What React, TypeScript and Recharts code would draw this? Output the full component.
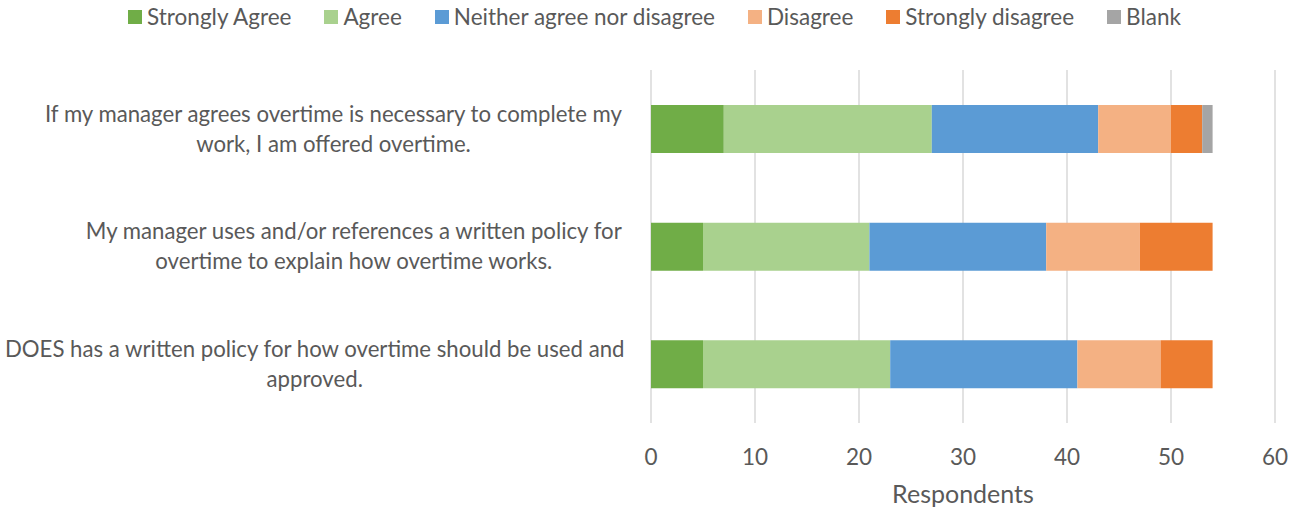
import React from "react";
import { BarChart, Bar, XAxis, YAxis, CartesianGrid } from "recharts";

const categories = [
  "If my manager agrees overtime is necessary to complete my\nwork, I am offered overtime.",
  "My manager uses and/or references a written policy for\novertime to explain how overtime works.",
  "DOES has a written policy for how overtime should be used and\napproved.",
];
const stronglyAgree = [7, 5, 5];
const agree = [20, 16, 18];
const neither = [16, 17, 18];
const disagree = [7, 9, 8];
const stronglyDisagree = [3, 7, 5];
const blank = [1, 0, 0];
const xTicks = [0, 10, 20, 30, 40, 50, 60];

const seriesNames = ["Strongly Agree", "Agree", "Neither agree nor disagree", "Disagree", "Strongly disagree", "Blank"];
const seriesKeys = ["sa", "a", "n", "d", "sd", "b"];
const colors = ["#70ad47", "#a9d18e", "#5b9bd5", "#f4b183", "#ed7d31", "#a5a5a5"];

const data = categories.map((c, i) => ({
  cat: c,
  sa: stronglyAgree[i],
  a: agree[i],
  n: neither[i],
  d: disagree[i],
  sd: stronglyDisagree[i],
  b: blank[i],
}));

const FONT = "Lato, 'Open Sans', sans-serif";
const TEXT = "#595959";
const FS = 22.5;
const YFS = 22.2;

let ctx: CanvasRenderingContext2D | null = null;
const measure = (s: string) => {
  if (typeof document === "undefined") return s.length * 10;
  if (!ctx) ctx = document.createElement("canvas").getContext("2d");
  if (!ctx) return s.length * 10;
  ctx.font = `${YFS}px Lato`;
  return ctx.measureText(s).width;
};

const YTick = (props: any) => {
  const { x, y, payload } = props;
  const lines = String(payload.value).split("\n");
  const lh = 30;
  const startY = y - ((lines.length - 1) * lh) / 2;
  const maxW = Math.max(...lines.map(measure));
  const right = x - 22;
  const cx = Math.max(right - maxW / 2, maxW / 2 + 4);
  return (
    <g>
      {lines.map((l, i) => (
        <text key={i} x={cx} y={startY + i * lh} dy="0.35em" textAnchor="middle" fill={TEXT} fontSize={YFS} fontFamily={FONT}>
          {l}
        </text>
      ))}
    </g>
  );
};

const LegendBox = () => (
  <div
    style={{
      position: "absolute",
      top: 3,
      left: 8,
      width: 1293,
      display: "flex",
      justifyContent: "center",
      gap: 33,
      fontFamily: FONT,
      fontSize: FS,
      color: TEXT,
      lineHeight: "28px",
    }}
  >
    {seriesNames.map((n, i) => (
      <div key={n} style={{ display: "flex", alignItems: "center" }}>
        <span style={{ display: "inline-block", width: 14, height: 14, background: colors[i], marginRight: 5 }} />
        <span>{n}</span>
      </div>
    ))}
  </div>
);

export default function App() {
  return (
    <div style={{ width: 1301, height: 513, position: "relative", overflow: "hidden" }}>
      <style>{`body{margin:0}`}</style>
      <LegendBox />
      <BarChart
        layout="vertical"
        width={1301}
        height={513}
        data={data}
        margin={{ top: 70, right: 26, left: 0, bottom: 0 }}
      >
        <CartesianGrid horizontal={false} stroke="#d9d9d9" strokeWidth={1.5} />
        <XAxis
          type="number"
          domain={[0, 60]}
          ticks={xTicks}
          axisLine={false}
          tickLine={false}
          height={90}
          tickMargin={20}
          tick={{ fill: TEXT, fontSize: FS, fontFamily: FONT }}
          label={{ value: "Respondents", position: "insideBottom", offset: 10, fill: TEXT, fontSize: 25, fontFamily: FONT }}
        />
        <YAxis type="category" dataKey="cat" width={651} axisLine={false} tickLine={false} tickMargin={0} tick={<YTick />} />
        {seriesKeys.map((k, i) => (
          <Bar key={k} dataKey={k} name={seriesNames[i]} stackId="s" fill={colors[i]} barSize={48} isAnimationActive={false} />
        ))}
      </BarChart>
    </div>
  );
}
